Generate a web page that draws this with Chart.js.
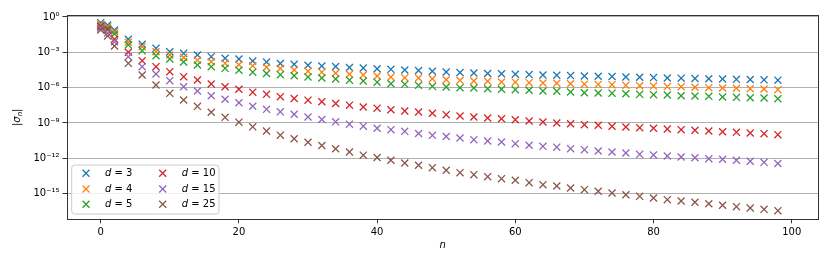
<!DOCTYPE html>
<html><head><meta charset="utf-8">
<style>html,body{margin:0;padding:0;background:#fff;}canvas{display:block;}</style>
<script src="https://cdn.jsdelivr.net/npm/chart.js"></script>
</head><body>
<canvas id="c" width="830" height="264"></canvas>
<script>
const nValues = [0,1,2,4,6,8,10,12,14,16,18,20,22,24,26,28,30,32,34,36,38,40,42,44,46,48,50,52,54,56,58,60,62,64,66,68,70,72,74,76,78,80,82,84,86,88,90,92,94,96,98];
const dLabels = ['3','4','5','10','15','25'];
const sigmaD3 = [3.25e-1,2.07e-1,7.8e-2,1.27e-2,4.78e-3,2.18e-3,1.12e-3,8.2e-4,5.9e-4,4.23e-4,3.1e-4,2.7e-4,1.83e-4,1.5e-4,1.12e-4,9.6e-5,8.0e-5,6.9e-5,6.2e-5,5.1e-5,4.65e-5,4.05e-5,3.6e-5,3.15e-5,2.85e-5,2.44e-5,2.13e-5,1.93e-5,1.75e-5,1.59e-5,1.5e-5,1.36e-5,1.28e-5,1.18e-5,1.12e-5,1.05e-5,9.7e-6,9.35e-6,8.8e-6,8.0e-6,7.55e-6,7.1e-6,6.6e-6,6.35e-6,5.97e-6,5.74e-6,5.42e-6,5.1e-6,4.91e-6,4.63e-6,4.29e-6];
const sigmaD4 = [2.29e-1,1.49e-1,5.6e-2,7.06e-3,2.99e-3,1.12e-3,5.9e-4,3.62e-4,2.09e-4,1.59e-4,1.16e-4,8.7e-5,7.1e-5,5.4e-5,4.2e-5,3.15e-5,2.44e-5,2.05e-5,1.65e-5,1.38e-5,1.18e-5,9.7e-6,8.0e-6,6.98e-6,6.6e-6,5.74e-6,4.72e-6,4.2e-6,3.66e-6,3.46e-6,3.01e-6,2.9e-6,2.63e-6,2.48e-6,2.38e-6,2.16e-6,1.96e-6,1.88e-6,1.78e-6,1.58e-6,1.44e-6,1.35e-6,1.23e-6,1.18e-6,1.07e-6,9.9e-7,9.3e-7,8.8e-7,8.1e-7,7.67e-7,6.7e-7];
const sigmaD5 = [1.71e-1,1.09e-1,3.57e-2,4.16e-3,1.37e-3,5.14e-4,2.7e-4,1.5e-4,8.36e-5,6.0e-5,4.38e-5,3.03e-5,2.05e-5,1.59e-5,1.26e-5,1.03e-5,8.0e-6,6.6e-6,5.42e-6,4.29e-6,3.66e-6,2.9e-6,2.16e-6,1.92e-6,1.58e-6,1.3e-6,1.14e-6,9.9e-7,9.3e-7,8.1e-7,7.24e-7,6.7e-7,5.96e-7,5.19e-7,4.9e-7,4.28e-7,3.72e-7,3.52e-7,3.38e-7,3.06e-7,2.72e-7,2.52e-7,2.38e-7,2.07e-7,1.95e-7,1.84e-7,1.6e-7,1.51e-7,1.4e-7,1.32e-7,1.15e-7];
const sigmaD10 = [1.55e-1,7.8e-2,1.27e-2,1.0e-3,1.94e-4,6.0e-5,2.26e-5,8.5e-6,4.46e-6,2.04e-6,1.2e-6,7.24e-7,4.11e-7,2.72e-7,1.71e-7,1.2e-7,8.6e-8,6.3e-8,4.51e-8,3.24e-8,2.28e-8,1.8e-8,1.34e-8,1.04e-8,8.6e-9,6.65e-9,5.06e-9,3.93e-9,3.23e-9,2.65e-9,2.31e-9,1.9e-9,1.48e-9,1.21e-9,1.0e-9,8.7e-10,7.16e-10,6.37e-10,5.24e-10,4.57e-10,3.99e-10,3.55e-10,3.09e-10,2.7e-10,2.4e-10,2.09e-10,1.82e-10,1.62e-10,1.42e-10,1.24e-10,1.02e-10];
const sigmaD15 = [1.15e-1,4.34e-2,7.93e-3,4.23e-4,6.0e-5,1.44e-5,3.89e-6,1.2e-6,5.19e-7,2.07e-7,1.03e-7,5.27e-8,2.66e-8,1.45e-8,8.9e-9,5.57e-9,3.23e-9,1.98e-9,1.26e-9,7.9e-10,5.35e-10,3.61e-10,2.7e-10,1.97e-10,1.29e-10,9.0e-11,7.14e-11,5.33e-11,3.82e-11,2.96e-11,2.44e-11,1.75e-11,1.28e-11,1.05e-11,8.83e-12,6.58e-12,5.41e-12,4.2e-12,3.45e-12,2.84e-12,2.2e-12,1.92e-12,1.58e-12,1.3e-12,1.13e-12,9.3e-13,8.3e-13,6.82e-13,5.61e-13,4.61e-13,3.65e-13];
const sigmaD25 = [7.8e-2,2.42e-2,3.43e-3,1.16e-4,1.18e-5,1.68e-6,3.31e-7,8.95e-8,2.61e-8,8.09e-9,3.04e-9,1.17e-9,4.75e-10,2.09e-10,9.2e-11,4.56e-11,2.34e-11,1.23e-11,6.46e-12,3.45e-12,1.85e-12,1.18e-12,6.82e-13,4.03e-13,2.57e-13,1.61e-13,9.66e-14,6.04e-14,4.09e-14,2.77e-14,1.87e-14,1.37e-14,8.57e-15,5.79e-15,4.5e-15,3.04e-15,2.18e-15,1.6e-15,1.15e-15,8.2e-16,6.0e-16,4.31e-16,3.09e-16,2.4e-16,1.86e-16,1.41e-16,1.04e-16,7.87e-17,6.11e-17,4.73e-17,3.6e-17];
const xTicks = [0,20,40,60,80,100];
const yTicks = [1e0,1e-3,1e-6,1e-9,1e-12,1e-15];
const yTickLabels = ['10\u2070','10\u207B\u00B3','10\u207B\u2076','10\u207B\u2079','10\u207B\u00B9\u00B2','10\u207B\u00B9\u2075'];

const allSeries = [sigmaD3,sigmaD4,sigmaD5,sigmaD10,sigmaD15,sigmaD25];
const colors = ['#1f77b4','#ff7f0e','#2ca02c','#d62728','#9467bd','#8c564b'];
const FONT = "'DejaVu Sans'";

const datasets = allSeries.map((vals,i)=>({
  label: 'd = '+dLabels[i],
  data: nValues.map((n,j)=>({x:n,y:vals[j]})),
  showLine:false,
  pointStyle:'crossRot',
  pointRadius:5,
  pointHoverRadius:5,
  pointBorderWidth:1.3,
  pointBorderColor:colors[i],
  pointBackgroundColor:colors[i],
  borderColor:colors[i],
  backgroundColor:colors[i],
  order: allSeries.length - i
}));

const decor = {
  id:'decor',
  afterDraw(chart){
    const ctx = chart.ctx, a = chart.chartArea;
    ctx.save();
    // frame
    ctx.strokeStyle = '#333';
    ctx.lineWidth = 1;
    const L = Math.round(a.left)+0.5, T = Math.round(a.top)+0.5, R = Math.round(a.right)-0.5, B = Math.round(a.bottom)+0.5;
    ctx.strokeRect(L, T, R-L, B-T);
    // legend
    const lx=71.7, ly=165, lw=147.3, lh=49, r=3;
    ctx.beginPath();
    ctx.moveTo(lx+r,ly); ctx.lineTo(lx+lw-r,ly); ctx.quadraticCurveTo(lx+lw,ly,lx+lw,ly+r);
    ctx.lineTo(lx+lw,ly+lh-r); ctx.quadraticCurveTo(lx+lw,ly+lh,lx+lw-r,ly+lh);
    ctx.lineTo(lx+r,ly+lh); ctx.quadraticCurveTo(lx,ly+lh,lx,ly+lh-r);
    ctx.lineTo(lx,ly+r); ctx.quadraticCurveTo(lx,ly,lx+r,ly); ctx.closePath();
    ctx.fillStyle='rgba(255,255,255,0.8)'; ctx.fill();
    ctx.strokeStyle='#cccccc'; ctx.lineWidth=1; ctx.stroke();
    const mxs=[86,162.7], txs=[105,181.7], mys=[173.3,189,204.3];
    ctx.textBaseline='middle'; ctx.textAlign='left';
    dLabels.forEach((lab,i)=>{
      const col=Math.floor(i/3), row=i%3;
      const mx=mxs[col], my=mys[row], h=3.5;
      ctx.strokeStyle=colors[i]; ctx.lineWidth=1.3;
      ctx.beginPath(); ctx.moveTo(mx-h,my-h); ctx.lineTo(mx+h,my+h); ctx.moveTo(mx-h,my+h); ctx.lineTo(mx+h,my-h); ctx.stroke();
      ctx.fillStyle='#000';
      ctx.font='italic 10px '+FONT;
      ctx.fillText('d', txs[col], my);
      const w=ctx.measureText('d').width;
      ctx.font='10px '+FONT;
      ctx.fillText(' = '+lab, txs[col]+w, my);
    });
    // x title
    ctx.fillStyle='#000';
    ctx.font='italic 10px '+FONT;
    ctx.textAlign='center';
    ctx.fillText('n', (a.left+a.right)/2, 245);
    // y title |σ_n|
    ctx.translate(17.5,(a.top+a.bottom)/2);
    ctx.rotate(-Math.PI/2);
    ctx.textAlign='left';
    const parts=[['|','10px',0],['\u03C3','italic 10px',0],['n','italic 7px',2.5],['|','10px',0]];
    let total=0;
    parts.forEach(p=>{ctx.font=p[1]+' '+FONT; p.push(ctx.measureText(p[0]).width); total+=p[3];});
    let x=-total/2;
    parts.forEach(p=>{ctx.font=p[1]+' '+FONT; ctx.fillText(p[0],x,p[2]); x+=p[3];});
    ctx.restore();
  }
};

new Chart(document.getElementById('c'),{
  type:'scatter',
  data:{datasets},
  options:{
    responsive:false, animation:false, devicePixelRatio:1,
    layout:{padding:{top:15.3,right:11,bottom:0,left:0}},
    plugins:{legend:{display:false},tooltip:{enabled:false}},
    scales:{
      x:{type:'linear',min:-4.95,max:103.95,
        afterBuildTicks:s=>{s.ticks=xTicks.map(v=>({value:v}));},
        afterFit:s=>{s.height=44.7;},
        grid:{drawOnChartArea:false,drawTicks:true,tickLength:4,tickColor:'#333',tickWidth:1},
        border:{display:false},
        ticks:{font:{family:'DejaVu Sans',size:10},color:'#000',padding:3,maxRotation:0,autoSkip:false}
      },
      y:{type:'logarithmic',min:6.7e-18,max:1.38,
        afterBuildTicks:s=>{s.ticks=yTicks.map(v=>({value:v}));},
        afterFit:s=>{s.width=66.5;},
        grid:{color:'#b0b0b0',lineWidth:1,drawTicks:true,tickLength:4,tickColor:'#333',tickWidth:1},
        border:{display:false},
        ticks:{font:{family:'DejaVu Sans',size:10},color:'#000',padding:3,autoSkip:false,
          callback:(v,i)=>yTickLabels[i]}
      }
    }
  },
  plugins:[decor]
});
</script>
</body></html>
